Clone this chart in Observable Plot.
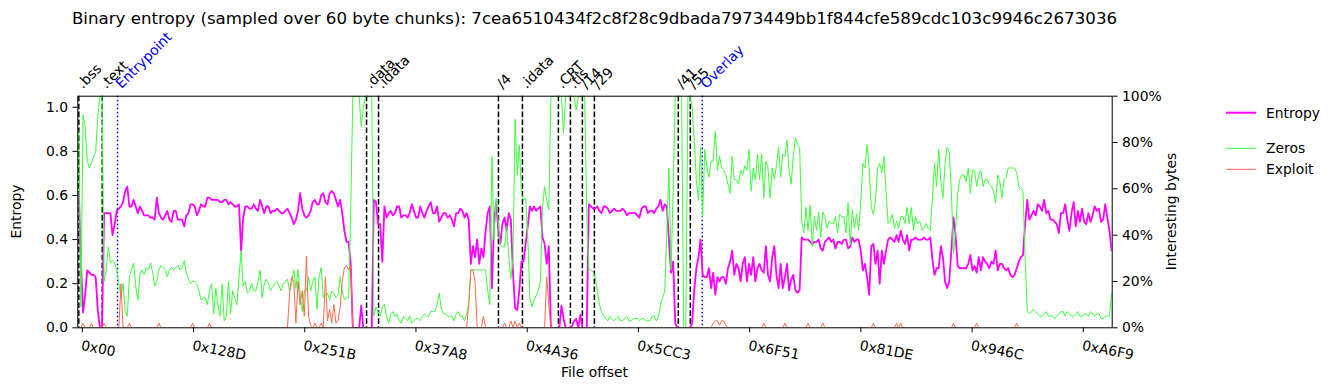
<!DOCTYPE html>
<html><head><meta charset="utf-8">
<script src="https://cdn.jsdelivr.net/npm/d3@7"></script>
<script src="https://cdn.jsdelivr.net/npm/@observablehq/plot@0.6"></script>
<style>
html,body{margin:0;padding:0;background:#fff;}
#chart svg{display:block;}
</style>
</head><body><div id="chart"></div>
<script>
// ---- data (one reading every 90 bytes = 1.5 chunks of 60 bytes) ----
const SAMPLE_BYTES = 90;
const TITLE = "Binary entropy (sampled over 60 byte chunks): 7cea6510434f2c8f28c9dbada7973449bb1f844cfe589cdc103c9946c2673036";

const entropy = [
0.61,0.30,0.07,0.15,0.26,0.25,0.24,0.24,0.23,0.08,
0,0,0.52,0.52,0.52,0.52,0.42,0.47,0.53,0.54,
0.55,0.57,0.62,0.64,0.55,0.55,0.58,0.55,0.52,0.55,
0.53,0.51,0.51,0.51,0.50,0.50,0.49,0.59,0.52,0.50,
0.49,0.51,0.53,0.49,0.48,0.53,0.53,0.49,0.49,0.49,
0.46,0.51,0.52,0.56,0.56,0.55,0.51,0.53,0.56,0.55,
0.55,0.59,0.59,0.58,0.58,0.58,0.58,0.57,0.57,0.58,
0.58,0.56,0.57,0.56,0.55,0.55,0.56,0.35,0.50,0.55,
0.55,0.54,0.54,0.56,0.54,0.53,0.58,0.55,0.52,0.55,
0.55,0.52,0.53,0.53,0.54,0.53,0.52,0.52,0.53,0.54,
0.52,0.50,0.47,0.49,0.53,0.61,0.54,0.51,0.50,0.51,
0.53,0.57,0.58,0.56,0.56,0.60,0.61,0.57,0.56,0.61,
0.62,0.61,0.58,0.55,0.58,0.52,0.44,0.39,0.39,0.29,
0,0,0,0,0.10,0,0,0,0,0,
0.58,0.57,0.47,0.47,0.30,0.55,0.50,0.52,0.53,0.51,
0.52,0.55,0.55,0.50,0.51,0.51,0.50,0.52,0.56,0.53,
0.50,0.50,0.55,0.52,0.50,0.53,0.55,0.57,0.52,0.52,
0.55,0.48,0.50,0.52,0.52,0.50,0.51,0.49,0.46,0.52,
0.52,0.54,0.53,0.50,0.52,0.49,0.29,0.37,0.32,0.40,
0.29,0.36,0.32,0.44,0.52,0.55,0.18,0.47,0.57,0.45,
0.38,0.47,0.50,0.44,0.52,0.49,0.25,0.09,0.08,0.17,
0.30,0.30,0.38,0.46,0.55,0.53,0.55,0.53,0.54,0.55,
0.41,0.38,0.29,0.37,0,0,0,0,0,0.10,
0.04,0,0,0,0.01,0.03,0.04,0,0.06,0,
0,0,0.56,0.55,0.54,0.54,0.55,0.53,0.52,0.55,
0.55,0.54,0.52,0.53,0.54,0.53,0.53,0.53,0.54,0.53,
0.51,0.52,0.52,0.52,0.52,0.51,0.50,0.54,0.55,0.55,
0.52,0.53,0.53,0.52,0.54,0.55,0.58,0.53,0.56,0.55,
0.40,0.25,0.30,0.02,0,0,0,0,0,0,
0,0.02,0.17,0.27,0.32,0.40,0.24,0.23,0.23,0.27,
0.18,0.25,0.15,0.23,0.21,0.23,0.23,0.20,0.27,0.30,
0.35,0.24,0.29,0.27,0.21,0.29,0.32,0.21,0.29,0.24,
0.32,0.21,0.27,0.29,0.26,0.25,0.37,0.24,0.21,0.32,
0.37,0.24,0.18,0.29,0.18,0.23,0.29,0.17,0.22,0.24,
0.17,0.16,0.17,0.41,0.40,0.40,0.40,0.39,0.38,0.39,
0.39,0.40,0.36,0.35,0.39,0.40,0.41,0.39,0.40,0.36,
0.39,0.39,0.38,0.40,0.40,0.36,0.37,0.41,0.39,0.40,
0.40,0.35,0.26,0.29,0.23,0.15,0.37,0.38,0.29,0.35,
0.20,0.35,0.29,0.35,0.40,0.41,0.40,0.39,0.42,0.39,
0.44,0.40,0.38,0.42,0.35,0.40,0.40,0.41,0.40,0.40,
0.40,0.41,0.40,0.40,0.41,0.31,0.24,0.27,0.27,0.37,
0.32,0.21,0.18,0.21,0.35,0.50,0.42,0.28,0.27,0.27,
0.27,0.27,0.29,0.33,0.26,0.28,0.25,0.32,0.26,0.32,
0.30,0.29,0.27,0.30,0.29,0.35,0.26,0.29,0.29,0.27,
0.26,0.27,0.24,0.23,0.24,0.27,0.30,0.32,0.33,0.47,
0.58,0.49,0.51,0.53,0.51,0.56,0.55,0.53,0.58,0.52,
0.53,0.49,0.49,0.48,0.47,0.43,0.52,0.52,0.56,0.49,
0.44,0.52,0.57,0.46,0.53,0.48,0.54,0.48,0.47,0.52,
0.48,0.51,0.55,0.53,0.54,0.48,0.49,0.56,0.50,0.44,
0.35
];

const zeros = [
0.85,0.09,0.92,0.87,0.72,0.69,0.71,0.74,0.76,0.91,
1.0,1.0,0.20,0.25,0.35,0.28,0.29,0.28,0.25,0.19,
0.13,0.19,0.07,0.05,0.22,0.25,0.28,0.18,0.12,0.23,
0.25,0.23,0.26,0.25,0.28,0.24,0.18,0.20,0.25,0.27,
0.26,0.25,0.22,0.25,0.26,0.25,0.26,0.27,0.25,0.26,
0.29,0.24,0.21,0.19,0.20,0.20,0.19,0.16,0.12,0.13,
0.13,0.10,0.16,0.19,0.06,0.17,0.10,0.05,0.19,0.03,
0.05,0.20,0.06,0.16,0.13,0.10,0.22,0.33,0.18,0.20,
0.15,0.16,0.19,0.16,0.16,0.20,0.25,0.13,0.19,0.21,
0.19,0.16,0.18,0.19,0.20,0.18,0.16,0.19,0.20,0.21,
0.16,0.19,0.25,0.17,0.25,0.15,0.07,0.16,0.16,0.22,
0.16,0.20,0.22,0.08,0.22,0.26,0.13,0.14,0.15,0.12,
0.16,0.15,0.13,0.14,0.22,0.16,0.12,0.13,0.13,0.50,
1.0,1.0,1.0,1.0,0.87,0.95,1.0,1.0,1.0,1.0,
0.05,0.09,0.07,0.05,0.09,0.10,0.05,0.02,0.06,0.07,
0.05,0.06,0.03,0.02,0.05,0.04,0.03,0.05,0.02,0.03,
0.04,0.04,0.03,0.05,0.06,0.05,0.05,0.07,0.07,0.07,
0.10,0.15,0.08,0.06,0.06,0.05,0.05,0.05,0.03,0.06,
0.07,0.05,0.05,0.03,0.06,0.10,0.25,0.25,0.25,0.25,
0.25,0.25,0.25,0.25,0.16,0.10,0.74,0.38,0.56,0.46,
0.36,0.35,0.35,0.44,0.31,0.21,0.30,0.90,0.66,0.79,
0.58,0.55,0.56,0.40,0.13,0.09,0.12,0.14,0.16,0.20,
0.52,0.61,0.55,0.51,1.0,1.0,1.0,1.0,1.0,1.0,
0.84,1.0,1.0,1.0,1.0,1.0,0.94,1.0,1.0,1.0,
1.0,0.5,0.25,0.25,0.24,0.22,0.16,0.10,0.07,0.05,
0.04,0.03,0.05,0.04,0.03,0.04,0.05,0.03,0.03,0.04,
0.05,0.03,0.03,0.04,0.04,0.04,0.03,0.04,0.04,0.03,
0.03,0.03,0.05,0.05,0.03,0.05,0.10,0.13,0.16,0.42,
0.69,0.25,0.59,1.0,1.0,1.0,1.0,0,0,1.0,
1.0,0.95,0.81,0.64,0.55,0.78,0.48,0.77,0.69,0.65,
0.72,0.72,0.85,0.68,0.74,0.69,0.68,0.66,0.62,0.58,
0.74,0.64,0.64,0.62,0.68,0.66,0.70,0.68,0.77,0.59,
0.69,0.64,0.75,0.64,0.75,0.56,0.72,0.69,0.56,0.69,
0.64,0.70,0.78,0.65,0.75,0.74,0.81,0.68,0.62,0.74,
0.82,0.79,0.78,0.46,0.41,0.52,0.42,0.53,0.35,0.48,
0.42,0.50,0.39,0.50,0.48,0.43,0.46,0.45,0.45,0.48,
0.41,0.49,0.48,0.48,0.41,0.54,0.36,0.51,0.43,0.49,
0.42,0.54,0.71,0.69,0.79,0.69,0.52,0.49,0.55,0.69,
0.71,0.67,0.74,0.59,0.45,0.46,0.49,0.43,0.46,0.43,
0.48,0.48,0.45,0.52,0.45,0.52,0.42,0.48,0.45,0.46,
0.42,0.43,0.45,0.43,0.42,0.56,0.71,0.61,0.77,0.63,
0.56,0.71,0.78,0.76,0.59,0.32,0.42,0.58,0.64,0.66,
0.66,0.63,0.69,0.58,0.68,0.68,0.61,0.66,0.68,0.61,
0.64,0.64,0.62,0.61,0.59,0.54,0.66,0.63,0.56,0.64,
0.65,0.69,0.69,0.69,0.69,0.67,0.61,0.60,0.59,0.30,
0.07,0.06,0.07,0.08,0.07,0.06,0.05,0.05,0.06,0.07,
0.05,0.05,0.05,0.04,0.05,0.06,0.07,0.07,0.05,0.07,
0.06,0.05,0.05,0.06,0.07,0.05,0.05,0.06,0.06,0.05,
0.07,0.06,0.05,0.06,0.06,0.04,0.04,0.05,0.05,0.05,
0.15
];

const exploit = [
0,0,0.02,0,0,0,0.02,0,0,0,
0,0,0.02,0,0,0,0,0,0,0,
0.19,0,0,0,0.02,0,0,0,0,0,
0,0,0,0,0,0,0,0,0.02,0,
0,0,0,0,0,0,0,0,0,0,
0,0,0,0,0.02,0,0,0,0,0,
0,0,0.02,0,0,0,0,0,0,0,
0,0,0,0,0,0,0,0,0,0,
0,0,0,0,0,0,0,0,0,0,
0,0,0,0,0,0,0,0,0,0,
0.15,0.22,0.20,0.02,0.20,0.10,0.16,0.05,0.31,0.05,
0.01,0,0.02,0,0,0.02,0,0.22,0.03,0.08,
0.02,0.10,0.02,0.03,0.09,0.20,0.26,0.27,0.25,0.27,
0,0,0,0,0,0,0,0,0,0,
0,0,0,0,0,0,0,0,0,0,
0,0,0,0,0,0,0,0,0,0,
0,0,0,0,0,0,0,0,0,0,
0,0,0,0,0,0,0,0,0,0,
0,0,0,0,0,0.10,0.25,0.25,0.20,0,
0,0,0.05,0,0,0,0,0,0,0,
0,0,0.02,0,0,0.03,0,0.03,0,0.02,
0,0,0,0,0,0,0,0,0,0,
0,0,0.22,0.10,0,0,0,0,0,0,
0,0,0,0,0,0,0,0,0,0,
0,0,0,0,0,0,0,0,0,0,
0,0,0,0,0,0,0,0,0,0,
0,0,0,0,0,0,0,0,0,0,
0,0,0,0,0,0,0,0,0,0,
0,0,0,0,0,0,0,0,0,0,
0,0,0,0,0,0,0,0,0,0,
0,0.02,0.03,0.03,0.01,0.03,0.03,0.01,0,0,
0,0,0,0,0,0,0,0,0,0,
0,0,0,0,0,0.02,0,0,0,0,
0,0,0,0,0,0.02,0,0,0,0,
0,0,0,0,0,0,0.02,0,0,0,
0,0,0,0.02,0,0,0,0,0,0,
0,0,0,0,0,0,0,0,0,0,
0,0,0,0,0,0,0,0.02,0,0,
0,0,0,0,0,0,0,0,0.02,0,
0.02,0,0,0,0,0,0,0,0,0,
0,0,0,0,0,0,0,0,0,0,
0,0,0,0,0,0.02,0,0,0,0,
0,0,0,0,0,0,0.02,0,0,0,
0,0,0,0,0,0,0,0,0,0,
0,0,0,0,0,0.02,0,0,0,0,
0,0,0,0,0,0,0,0,0,0,
0,0,0,0,0,0,0,0,0,0,
0,0,0,0,0,0,0,0,0,0,
0,0,0,0,0,0,0,0,0,0,
0
];

const sectionNames   = [".bss", ".text", "Entrypoint", ".data", ".idata", "/4", ".idata", ".CRT", ".tls", "/14", "/29", "/41", "/55", "Overlay"];
const sectionOffsets = [0, 1000, 1653, 12288, 12800, 17920, 18944, 20480, 20992, 21504, 22016, 25600, 26112, 26624];
const sectionKinds   = ["section","section","marker","section","section","section","section","section","section","section","section","section","section","marker"];

const xTickValues = [0, 4749, 9499, 14248, 18998, 23747, 28497, 33246, 37996, 42745];
const xTickLabels = ["0x00", "0x128D", "0x251B", "0x37A8", "0x4A36", "0x5CC3", "0x6F51", "0x81DE", "0x946C", "0xA6F9"];
const yTicks = [0, 0.2, 0.4, 0.6, 0.8, 1.0];
const yTickLabels = ["0.0", "0.2", "0.4", "0.6", "0.8", "1.0"];
const pctTicks = [0, 0.2, 0.4, 0.6, 0.8, 1.0];
const pctLabels = ["0%", "20%", "40%", "60%", "80%", "100%"];

const seriesNames = ["Entropy", "Zeros", "Exploit"];
const seriesColors = ["#ff00ff", "#3dff3d", "#ff6a4d"];

// ---- build ----
const Y_MAX = 1.05;          // left axis top
const RIGHT_TO_LEFT = 1.05;  // the right axis's 100% sits at the frame top
const rows = entropy.map((e, i) => ({
  offset: i * SAMPLE_BYTES,
  entropy: e,
  zeros: zeros[i] * RIGHT_TO_LEFT,
  exploit: exploit[i] * RIGHT_TO_LEFT
}));
const sections = sectionNames.map((n, i) => ({name: n, offset: sectionOffsets[i], kind: sectionKinds[i]}));
const secs = sections.filter(d => d.kind === "section");
const marks = sections.filter(d => d.kind === "marker");

const W = 1335, H = 390;
const fL = 77.3, fR = 1111.7, fT = 95.7, fB = 327.3;

const chart = Plot.plot({
  width: W, height: H,
  marginLeft: fL, marginRight: W - fR, marginTop: fT, marginBottom: H - fB,
  style: {fontFamily: "'DejaVu Sans', sans-serif", fontSize: "13.9px", background: "white", color: "black", overflow: "visible"},
  x: {domain: [-43, 44128]},
  y: {domain: [0, Y_MAX]},
  marks: [
    Plot.ruleX(secs, {x: "offset", stroke: "black", strokeWidth: 1.5, strokeDasharray: "5.55,2.4"}),
    Plot.ruleX(marks, {x: "offset", stroke: "blue", strokeWidth: 1.5, strokeDasharray: "1.5,2.5"}),
    Plot.line(rows, {x: "offset", y: "entropy", stroke: seriesColors[0], strokeWidth: 1.8, clip: true}),
    Plot.line(rows, {x: "offset", y: "zeros", stroke: seriesColors[1], strokeWidth: 1, clip: true}),
    Plot.line(rows, {x: "offset", y: "exploit", stroke: seriesColors[2], strokeWidth: 1, clip: true}),
    Plot.frame({stroke: "black", strokeWidth: 1}),
    Plot.text(secs, {x: "offset", text: "name", frameAnchor: "top", rotate: -45, textAnchor: "start", lineAnchor: "bottom", dx: 4, dy: -7, fill: "black"}),
    Plot.text(marks, {x: "offset", text: "name", frameAnchor: "top", rotate: -45, textAnchor: "start", lineAnchor: "bottom", dx: 4, dy: -7, fill: "blue"}),
    Plot.axisX(xTickValues, {label: null, tickSize: 4.9, tickPadding: 7.3, tickRotate: 11, textAnchor: "start", lineAnchor: "top", dx: 3.5,
      tickFormat: d => xTickLabels[xTickValues.indexOf(d)]}),
    Plot.axisY(yTicks, {anchor: "left", label: null, tickSize: 4.9, tickPadding: 4.9,
      tickFormat: d => yTickLabels[yTicks.indexOf(d)]}),
    Plot.axisY(pctTicks.map(p => p * RIGHT_TO_LEFT), {anchor: "right", label: null, tickSize: 4.9, tickPadding: 4.9,
      tickFormat: d => pctLabels[Math.round(d / RIGHT_TO_LEFT * 5)]})
  ]
});

document.getElementById("chart").appendChild(chart);

// ---- annotations: title, axis labels, legend ----
const svg = d3.select(chart);
const cx = (fL + fR) / 2, cy = (fT + fB) / 2;
svg.append("text").attr("x", cx).attr("y", 24).attr("text-anchor", "middle")
  .attr("font-size", "16.67px").attr("fill", "black").text(TITLE);
svg.append("text").attr("transform", `translate(21,${cy}) rotate(-90)`).attr("text-anchor", "middle")
  .attr("fill", "black").text("Entropy");
svg.append("text").attr("transform", `translate(1175.5,${cy}) rotate(-90)`).attr("text-anchor", "middle")
  .attr("fill", "black").text("Interesting bytes");
svg.append("text").attr("x", cx).attr("y", 377).attr("text-anchor", "middle")
  .attr("fill", "black").text("File offset");

const legendY = [112.7, 148.3, 169.3];
const legendW = [2, 1, 1];
seriesNames.forEach((name, i) => {
  svg.append("line").attr("x1", 1226).attr("x2", 1256).attr("y1", legendY[i]).attr("y2", legendY[i])
    .attr("stroke", seriesColors[i]).attr("stroke-width", legendW[i]);
  svg.append("text").attr("x", 1266).attr("y", legendY[i]).attr("dy", "0.35em")
    .attr("text-anchor", "start").attr("fill", "black").text(name);
});
</script>
</body></html>
